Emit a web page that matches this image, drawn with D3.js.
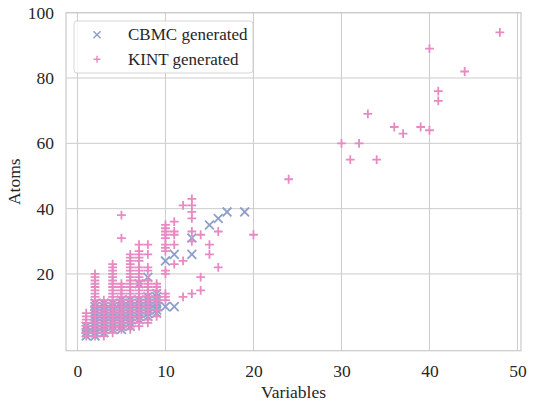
<!DOCTYPE html>
<html>
<head>
<meta charset="utf-8">
<script src="https://cdn.jsdelivr.net/npm/d3@7/dist/d3.min.js"></script>
<style>
  html, body { margin: 0; padding: 0; background: #fff; }
  svg { display: block; }
  svg text { font-family: "Liberation Serif", "DejaVu Serif", Times, serif !important; fill: #262626; }
</style>
</head>
<body>
<svg id="chart" width="533" height="403"></svg>
<script>
// ---- data ----
const seriesNames = ["CBMC generated", "KINT generated"];
const seriesColors = ["#8da0cb", "#e78ac3"];
const xTicks = [0, 10, 20, 30, 40, 50];
const yTicks = [20, 40, 60, 80, 100];

// columns: [variables, [atoms...]]
const cbmcColumns = [
  [1, [1, 2, 3, 4]],
  [2, [1, 2, 3, 4, 5, 6, 7, 8, 9, 10, 11]],
  [3, [2, 3, 4, 5, 6, 7, 8, 9, 10, 11]],
  [4, [3, 4, 5, 6, 7, 8, 9, 10, 11]],
  [5, [3, 4, 5, 6, 7, 8, 9, 10, 11, 12]],
  [6, [4, 5, 6, 7, 8, 9, 10, 11, 12]],
  [7, [6, 7, 8, 9, 10, 11, 12, 17]],
  [8, [7, 8, 9, 10, 11, 12, 13, 19]],
  [9, [8, 9, 10, 11, 12, 13, 14]],
  [10, [10, 24]],
  [11, [10, 26]],
  [13, [26, 31]],
  [15, [35]],
  [16, [37]],
  [17, [39]],
  [19, [39]]
];
const kintColumns = [
  [1, [1, 2, 3, 4, 5, 6, 7, 8]],
  [2, [1, 2, 3, 4, 5, 6, 7, 8, 9, 10, 11, 12, 13, 14, 15, 16, 17, 18, 19, 20]],
  [3, [1, 2, 3, 4, 5, 6, 7, 8, 9, 10, 11, 12]],
  [4, [2, 3, 4, 5, 6, 7, 8, 9, 10, 11, 12, 13, 14, 15, 16, 17, 18, 19, 20, 21, 22, 23]],
  [5, [3, 4, 5, 6, 7, 8, 9, 10, 11, 12, 13, 14, 15, 16, 17, 31, 38]],
  [6, [3, 4, 5, 6, 7, 8, 9, 10, 11, 12, 13, 14, 15, 16, 17, 18, 19, 20, 21, 22, 23, 24, 25, 26]],
  [7, [4, 5, 6, 7, 8, 9, 10, 11, 12, 13, 14, 15, 16, 17, 18, 19, 20, 21, 22, 24, 25, 26, 27, 29]],
  [8, [5, 6, 8, 9, 10, 11, 12, 13, 14, 15, 16, 17, 18, 21, 22, 26, 29]],
  [9, [7, 9, 11, 12, 13, 15, 16, 17]],
  [10, [12, 13, 14, 20, 21, 27, 28, 29, 31, 32, 33, 34, 35]],
  [11, [23, 29, 32, 33, 36]],
  [12, [13, 24, 41]],
  [13, [14, 30, 33, 37, 39, 41, 43]],
  [14, [15, 19, 32]],
  [15, [26, 29]],
  [16, [22, 33]],
  [20, [32]],
  [24, [49]],
  [30, [60]],
  [31, [55]],
  [32, [60]],
  [33, [69]],
  [34, [55]],
  [36, [65]],
  [37, [63]],
  [39, [65]],
  [40, [64, 89]],
  [41, [73, 76]],
  [44, [82]],
  [48, [94]]
];

// ---- chart ----
const FONT = '"Liberation Serif", "DejaVu Serif", Times, serif';
const svg = d3.select("#chart").attr("font-family", FONT);
const pLeft = 66, pRight = 521, pTop = 12.7, pBottom = 350.7;
const x = d3.scaleLinear().domain([-1.3, 50.4]).range([pLeft, pRight]);
const y = d3.scaleLinear().domain([-3.5, 100]).range([pBottom, pTop]);
const grid = "#cccccc";

// grid
const g = svg.append("g");
g.selectAll("line.vx").data(xTicks).join("line")
  .attr("x1", d => x(d)).attr("x2", d => x(d))
  .attr("y1", pTop).attr("y2", pBottom)
  .attr("stroke", grid).attr("stroke-width", 1);
g.selectAll("line.hy").data(yTicks).join("line")
  .attr("x1", pLeft).attr("x2", pRight)
  .attr("y1", d => y(d)).attr("y2", d => y(d))
  .attr("stroke", grid).attr("stroke-width", 1);

// axes (labels only)
const xAxis = svg.append("g").attr("transform", `translate(0,${pBottom})`)
  .call(d3.axisBottom(x).tickValues(xTicks).tickSize(0).tickPadding(13.6).tickFormat(d3.format("d")));
const yAxis = svg.append("g").attr("transform", `translate(${pLeft},0)`)
  .call(d3.axisLeft(y).tickValues(yTicks).tickSize(0).tickPadding(12).tickFormat(d3.format("d")));
[xAxis, yAxis].forEach(a => {
  a.attr("font-family", FONT).attr("font-size", 17.5);
  a.select(".domain").remove();
  a.selectAll("text").attr("fill", "#262626");
});

// marker paths
const s = 4.4;
const plusPath = `M${-s},0H${s}M0,${-s}V${s}`;
const xPath = `M${-s},${-s}L${s},${s}M${-s},${s}L${s},${-s}`;

function flatten(cols) {
  const out = [];
  cols.forEach(([vx, ys]) => ys.forEach(vy => out.push([vx, vy])));
  return out;
}

const plot = svg.append("g");
plot.selectAll("path.cbmc").data(flatten(cbmcColumns)).join("path")
  .attr("class", "cbmc")
  .attr("transform", d => `translate(${x(d[0])},${y(d[1])})`)
  .attr("d", xPath).attr("fill", "none")
  .attr("stroke", seriesColors[0]).attr("stroke-width", 1.8);
plot.selectAll("path.kint").data(flatten(kintColumns)).join("path")
  .attr("class", "kint")
  .attr("transform", d => `translate(${x(d[0])},${y(d[1])})`)
  .attr("d", plusPath).attr("fill", "none")
  .attr("stroke", seriesColors[1]).attr("stroke-width", 1.8);

// frame
svg.append("rect").attr("x", pLeft).attr("y", pTop)
  .attr("width", pRight - pLeft).attr("height", pBottom - pTop)
  .attr("fill", "none").attr("stroke", grid).attr("stroke-width", 1.25);

// axis titles
svg.append("text").attr("x", (pLeft + pRight) / 2).attr("y", 397.5)
  .attr("text-anchor", "middle").attr("font-size", 17.5).text("Variables");
svg.append("text").attr("transform", `translate(19.5,${(pTop + pBottom) / 2}) rotate(-90)`)
  .attr("text-anchor", "middle").attr("font-size", 17.5).text("Atoms");

// legend
const lg = svg.append("g");
lg.append("rect").attr("x", 74).attr("y", 21).attr("width", 179).attr("height", 52)
  .attr("rx", 3).attr("fill", "#fff").attr("fill-opacity", 0.8)
  .attr("stroke", grid).attr("stroke-opacity", 0.8).attr("stroke-width", 1);
const legendRows = [34.7, 59.3];
seriesNames.forEach((name, i) => {
  const ly = legendRows[i];
  lg.append("path")
    .attr("d", i === 0 ? xPath : plusPath).attr("fill", "none")
    .attr("stroke", seriesColors[i]).attr("stroke-width", 1.8)
    .attr("transform", `translate(97,${ly}) scale(0.8)`);
  lg.append("text").attr("x", 128).attr("y", ly + 5.5)
    .attr("font-size", 17).text(name);
});
</script>
</body>
</html>
